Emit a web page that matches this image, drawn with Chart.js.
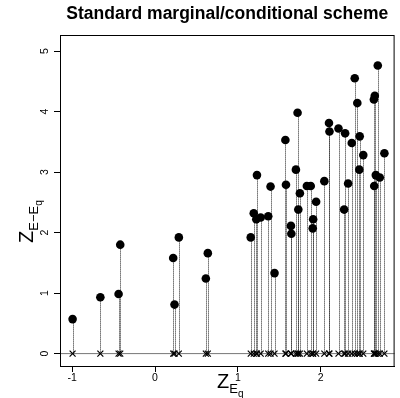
<!DOCTYPE html>
<html>
<head>
<meta charset="utf-8">
<script src="https://cdn.jsdelivr.net/npm/chart.js@4"></script>
<style>
  html, body { margin: 0; padding: 0; background: #fff; }
  #wrap { width: 400px; height: 398px; }
</style>
</head>
<body>
<div id="wrap"><canvas id="myChart" width="400" height="398"></canvas></div>
<script>
/* data */
const zEq = [
  -0.995, -0.66, -0.44, -0.42, 0.219, 0.235, 0.287, 0.613, 0.637,
  1.155, 1.191, 1.222, 1.23, 1.275, 1.366, 1.394, 1.442, 1.573, 1.58,
  1.64, 1.645, 1.70, 1.72, 1.729, 1.748, 1.832, 1.879, 1.903, 1.908,
  1.944, 2.043, 2.099, 2.105, 2.214, 2.282, 2.294, 2.33, 2.374, 2.41,
  2.441, 2.465, 2.47, 2.513, 2.641, 2.645, 2.652, 2.664, 2.688, 2.712, 2.768
];
const zDiff = [
  0.57, 0.93, 0.985, 1.80, 1.58, 0.81, 1.92, 1.24, 1.66,
  1.92, 2.32, 2.22, 2.95, 2.25, 2.27, 2.76, 1.33, 3.53, 2.79,
  2.11, 1.98, 3.04, 3.98, 2.38, 2.65, 2.77, 2.77, 2.07, 2.22,
  2.51, 2.85, 3.81, 3.67, 3.72, 2.38, 3.64, 2.81, 3.48, 4.55,
  4.14, 3.04, 3.59, 3.28, 4.20, 2.77, 4.26, 2.95, 4.76, 2.91, 3.31
];
const xTickValues = [-1, 0, 1, 2];
const yTickValues = [0, 1, 2, 3, 4, 5];
const chartTitle = 'Standard marginal/conditional scheme';

const FONT = '"Liberation Sans", Arial, Helvetica, sans-serif';

/*stems, zero line, box, labels*/
const rPlot = {
  id: 'rPlot',
  beforeDatasetsDraw(chart) {
    const ctx = chart.ctx, a = chart.chartArea;
    const sx = chart.scales.x, sy = chart.scales.y;
    const y0 = sy.getPixelForValue(0);
    ctx.save();
    // abline h=0
    ctx.strokeStyle = '#777';
    ctx.lineWidth = 1;
    ctx.beginPath();
    ctx.moveTo(a.left, y0);
    ctx.lineTo(a.right, y0);
    ctx.stroke();
    // dotted stems
    ctx.strokeStyle = '#222';
    ctx.setLineDash([1, 1]);
    zEq.forEach(function(x, i) {
      const px = Math.round(sx.getPixelForValue(x)) + 0.5;
      ctx.beginPath();
      ctx.moveTo(px, y0);
      ctx.lineTo(px, sy.getPixelForValue(zDiff[i]));
      ctx.stroke();
    });
    ctx.restore();
  },
  afterDraw(chart) {
    const ctx = chart.ctx, a = chart.chartArea;
    const sy = chart.scales.y;
    ctx.save();
    ctx.strokeStyle = '#000';
    ctx.lineWidth = 1;
    ctx.strokeRect(a.left + 0.5, a.top + 0.5, a.right - a.left - 1, a.bottom - a.top);

    // title
    ctx.fillStyle = '#000';
    ctx.font = 'bold 17.5px ' + FONT;
    ctx.textAlign = 'center';
    ctx.textBaseline = 'middle';
    ctx.fillText(chartTitle, (a.left + a.right) / 2, 14);

    // y tick labels, rotated like R
    ctx.font = '10.5px ' + FONT;
    yTickValues.forEach(function(v) {
      ctx.save();
      ctx.translate(45, sy.getPixelForValue(v));
      ctx.rotate(-Math.PI / 2);
      ctx.fillText(String(v), 0, 0);
      ctx.restore();
    });

    // x axis title  Z_{E_q}
    ctx.textAlign = 'left';
    ctx.textBaseline = 'alphabetic';
    let x = 217;
    ctx.font = '20px ' + FONT;
    ctx.fillText('Z', x, 388);
    x += ctx.measureText('Z').width;
    ctx.font = '13px ' + FONT;
    ctx.fillText('E', x, 393);
    x += ctx.measureText('E').width;
    ctx.font = '10px ' + FONT;
    ctx.fillText('q', x, 397);

    // y axis title  Z_{E-E_q}
    ctx.save();
    ctx.translate(33, 243);
    ctx.rotate(-Math.PI / 2);
    let t = 0;
    ctx.font = '20px ' + FONT;
    ctx.fillText('Z', t, 0);
    t += ctx.measureText('Z').width;
    ctx.font = '13px ' + FONT;
    ctx.fillText('E\u2212E', t, 5);
    t += ctx.measureText('E\u2212E').width;
    ctx.font = '10px ' + FONT;
    ctx.fillText('q', t, 9);
    ctx.restore();

    ctx.restore();
  }
};

var ctx = document.getElementById('myChart').getContext('2d');

var chart = new Chart(ctx, {
  type: 'scatter',
  data: {
    datasets: [{
      label: 'conditional',
      data: zEq.map(function(x, i) { return { x: x, y: zDiff[i] }; }),
      pointStyle: 'circle',
      pointRadius: 4.3,
      backgroundColor: '#000',
      borderColor: '#000',
      borderWidth: 0
    },
    {
      label: 'marginal',
      data: zEq.map(function(x) { return { x: x, y: 0 }; }),
      pointStyle: 'crossRot',
      pointRadius: 4.2,
      borderColor: '#000',
      borderWidth: 1.2
    }]
  },
  options: {
    responsive: false,
    animation: false,
    events: [],
    layout: { padding: { top: 35, right: 2, left: 0, bottom: 0 } },
    plugins: {
      legend: { display: false },
      title: { display: false },
      tooltip: { enabled: false }
    },
    scales: {
      x: {
        type: 'linear',
        min: -1.147,
        max: 2.891,
        afterBuildTicks: function(s) { s.ticks = xTickValues.map(function(v) { return { value: v }; }); },
        afterFit: function(s) { s.height = 32; },
        grid: { display: true, drawOnChartArea: false, drawTicks: true, tickLength: 6, color: '#000' },
        border: { display: true, color: '#000' },
        ticks: { color: '#000', font: { family: FONT, size: 10.5 }, padding: 0, maxRotation: 0, autoSkip: false }
      },
      y: {
        type: 'linear',
        min: -0.205,
        max: 5.265,
        afterBuildTicks: function(s) { s.ticks = yTickValues.map(function(v) { return { value: v }; }); },
        afterFit: function(s) { s.width = 60; },
        grid: { display: true, drawOnChartArea: false, drawTicks: true, tickLength: 6, color: '#000' },
        border: { display: true, color: '#000' },
        ticks: { display: false }
      }
    }
  },
  plugins: [rPlot]
});
</script>
</body>
</html>
